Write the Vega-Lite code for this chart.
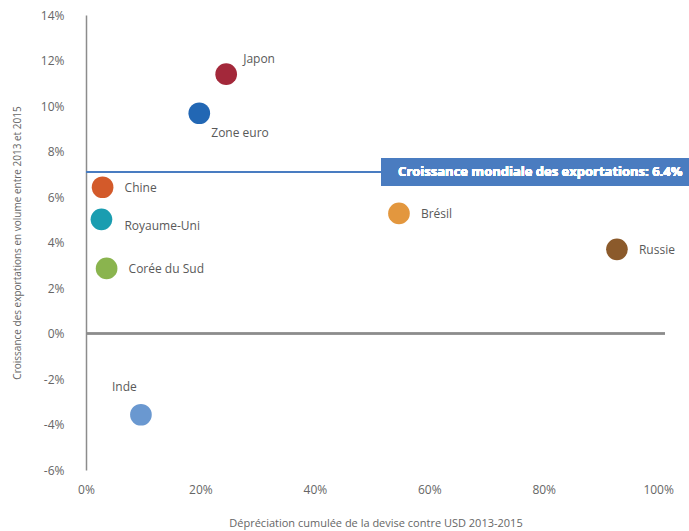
{
  "$schema": "https://vega.github.io/schema/vega-lite/v6.json",
  "width": 579,
  "height": 455,
  "autosize": "none",
  "padding": {"left": 86, "top": 15, "right": 24, "bottom": 61},
  "background": "white",
  "config": {
    "view": {"stroke": null},
    "font": "Open Sans",
    "axis": {"grid": false, "ticks": false, "labelFlush": false, "labelColor": "#666666", "titleColor": "#666666", "labelFont": "Open Sans", "titleFont": "Open Sans", "titleFontWeight": "normal"}
  },
  "data": {
    "values": [
      {"pays": "Japon", "depreciation": 24.5, "croissance": 11.4},
      {"pays": "Zone euro", "depreciation": 19.8, "croissance": 9.68},
      {"pays": "Chine", "depreciation": 2.9, "croissance": 6.43},
      {"pays": "Royaume-Uni", "depreciation": 2.7, "croissance": 5.02},
      {"pays": "Corée du Sud", "depreciation": 3.6, "croissance": 2.86},
      {"pays": "Inde", "depreciation": 9.6, "croissance": -3.57},
      {"pays": "Brésil", "depreciation": 54.7, "croissance": 5.28},
      {"pays": "Russie", "depreciation": 92.8, "croissance": 3.7}
    ]
  },
  "encoding": {
    "x": {
      "field": "depreciation", "type": "quantitative",
      "scale": {"domain": [0, 101.2], "nice": false, "zero": false},
      "axis": {"values": [0, 20, 40, 60, 80, 100], "labelExpr": "datum.value + '%'", "domain": false, "labelFontSize": 12, "labelPadding": 14, "title": "Dépréciation cumulée de la devise contre USD 2013-2015", "titleFontSize": 11, "titlePadding": 22}
    },
    "y": {
      "field": "croissance", "type": "quantitative",
      "scale": {"domain": [-6, 14], "nice": false},
      "axis": {"values": [-6, -4, -2, 0, 2, 4, 6, 8, 10, 12, 14], "labelExpr": "datum.value + '%'", "domain": true, "domainColor": "#8c8c8c", "domainWidth": 1.5, "labelFontSize": 12, "labelPadding": 22, "title": "Croissance des exportations en volume entre 2013 et 2015", "titleFontSize": 10, "titlePadding": 18}
    }
  },
  "layer": [
    {
      "mark": {"type": "rule", "color": "#8c8c8c", "strokeWidth": 1.5},
      "encoding": {"y": {"datum": 0}, "x": null}
    },
    {
      "mark": {"type": "rule", "color": "#4a7cc0", "strokeWidth": 1.5},
      "encoding": {"y": {"datum": 7.1}, "x": null}
    },
    {
      "mark": {"type": "rect", "color": "#4a7cc0", "clip": false},
      "encoding": {
        "x": {"datum": 51.6}, "x2": {"datum": 106},
        "y": {"datum": 7.7}, "y2": {"datum": 6.51}
      }
    },
    {
      "mark": {"type": "text", "color": "white", "fontWeight": "bold", "fontSize": 13, "align": "center", "baseline": "middle", "clip": false},
      "encoding": {
        "x": {"datum": 79.4}, "y": {"datum": 7.1},
        "text": {"value": "Croissance mondiale des exportations: 6.4%"}
      }
    },
    {
      "mark": {"type": "circle", "size": 470, "opacity": 1},
      "encoding": {
        "color": {
          "field": "pays", "type": "nominal", "legend": null,
          "scale": {
            "domain": ["Japon", "Zone euro", "Chine", "Royaume-Uni", "Corée du Sud", "Inde", "Brésil", "Russie"],
            "range": ["#a3283a", "#2267b4", "#d35a2a", "#1a9db0", "#8ab44e", "#6a98d0", "#e3973e", "#8b5a2b"]
          }
        }
      }
    },
    {
      "transform": [{"filter": "indexof(['Chine','Corée du Sud','Brésil','Russie'], datum.pays) >= 0"}],
      "mark": {"type": "text", "align": "left", "baseline": "middle", "dx": 22, "dy": 1, "fontSize": 12, "color": "#595959"},
      "encoding": {"text": {"field": "pays"}}
    },
    {
      "transform": [{"filter": "datum.pays == 'Royaume-Uni'"}],
      "mark": {"type": "text", "align": "left", "baseline": "middle", "dx": 23, "dy": 7, "fontSize": 12, "color": "#595959"},
      "encoding": {"text": {"field": "pays"}}
    },
    {
      "transform": [{"filter": "datum.pays == 'Japon'"}],
      "mark": {"type": "text", "align": "left", "baseline": "middle", "dx": 17, "dy": -15, "fontSize": 12, "color": "#595959"},
      "encoding": {"text": {"field": "pays"}}
    },
    {
      "transform": [{"filter": "datum.pays == 'Zone euro'"}],
      "mark": {"type": "text", "align": "left", "baseline": "middle", "dx": 12, "dy": 20, "fontSize": 12, "color": "#595959"},
      "encoding": {"text": {"field": "pays"}}
    },
    {
      "transform": [{"filter": "datum.pays == 'Inde'"}],
      "mark": {"type": "text", "align": "left", "baseline": "middle", "dx": -29, "dy": -28, "fontSize": 12, "color": "#595959"},
      "encoding": {"text": {"field": "pays"}}
    }
  ]
}
